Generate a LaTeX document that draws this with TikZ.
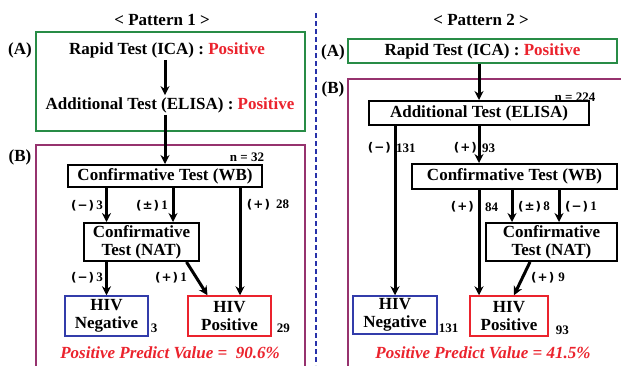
\documentclass[tikz,border=0pt]{standalone}
\usepackage{fontspec}
\setmainfont{Liberation Serif}
\newfontfamily\sgnfont{DejaVu Sans}
\usetikzlibrary{arrows.meta,positioning}
\definecolor{boxgreen}{RGB}{40,140,70}
\definecolor{boxpurple}{RGB}{150,50,110}
\definecolor{boxblue}{RGB}{50,60,170}
\definecolor{boxred}{RGB}{235,35,45}
\definecolor{lineblue}{RGB}{40,50,170}
\newcommand{\sgn}[1]{{\sgnfont\fontsize{12}{13}\selectfont(\kern1pt#1\kern1pt)}}
\begin{document}
\begin{tikzpicture}[x=1pt, y=-1pt, font=\fontsize{17}{18}\selectfont\bfseries,
  txt/.style = {inner sep=2pt, align=center},
  main/.style = {draw, line width=2pt, inner sep=0pt, align=center},
  res/.style = {draw, line width=1.5pt, inner sep=0pt, align=center, minimum height=40pt},
  arr/.style = {line width=3pt, -{Stealth[length=9pt,width=9pt]}},
  lbl/.style = {font=\fontsize{13}{14}\selectfont\bfseries, inner sep=0pt},
  ppv/.style = {text=boxred, font=\fontsize{17}{18}\selectfont\bfseries\itshape}]
\useasboundingbox (0,0) rectangle (621,365);

% Pattern 1
\node[txt] (t1) at (162,20) {< Pattern 1 >};
\draw[boxgreen, line width=1.5pt] (36,32) rectangle (305,131);
\draw[boxpurple, line width=1.5pt] (36,145) rectangle (305,372);
\node[txt] (a1) at (20,50) {(A)};
\node[txt] (b1) at (20,157) {(B)};
\node[txt] (rapid1) at (167,50) {Rapid Test (ICA) : \textcolor{boxred}{Positive}};
\node[txt] (add1) at (170,105) {Additional Test (ELISA) : \textcolor{boxred}{Positive}};
\node[main, minimum width=194pt, minimum height=22pt] (wb1) at (165,176) {Confirmative Test (WB)};
\node[main, minimum width=115pt, minimum height=38pt] (nat1) at (141.5,242) {Confirmative\\Test (NAT)};
\node[res, boxblue, text=black, minimum width=83pt] (neg1) at (106.5,316) {HIV\\Negative};
\node[res, boxred, text=black, minimum width=83pt] (pos1) at (229.5,316) {HIV\\Positive};
\node[lbl] (n1) at (247,157) {n = 32};
\node[lbl, anchor=west] (c1) at ([xshift=2pt,yshift=-12pt]neg1.east) {3};
\node[lbl, anchor=west] (c2) at ([xshift=5pt,yshift=-12pt]pos1.east) {29};
\node[ppv] (pv1) at (170,353) {Positive Predict Value =~~90.6\%};

\draw[arr] (rapid1.south -| wb1) -- (add1.north -| wb1);
\draw[arr] (add1.south -| wb1) -- (wb1.north);
\draw[arr] (wb1.south -| neg1) -- (nat1.north -| neg1);
\draw[arr] ([xshift=8pt]wb1.south) -- ([xshift=8pt]wb1.south |- nat1.north);
\draw[arr] ([xshift=75pt]wb1.south) -- ([xshift=75pt]wb1.south |- pos1.north);
\draw[arr] (nat1.south -| neg1) -- (neg1.north);
\draw[arr] ([xshift=45pt]nat1.south) -- ([xshift=-22pt]pos1.north);
\node[lbl] (l1) at (87,206) {\sgn{−}\,3};
\node[lbl] (l2) at (152,206) {\sgn{±}\,1};
\node[lbl] (l3) at (268,205) {\sgn{+}\hspace{6pt}28};
\node[lbl] (l4) at (87,278) {\sgn{−}\,3};
\node[lbl] (l5) at (171,278) {\sgn{+}\,1};

% divider
\draw[lineblue, line width=2pt, dash pattern=on 5pt off 3pt] (316,13) -- (316,365);

% Pattern 2
\node[txt] (t2) at (481,20) {< Pattern 2 >};
\draw[boxpurple, line width=1.5pt] (348,79) rectangle (630,372);
\node[txt] (a2) at (333,52) {(A)};
\node[txt] (b2) at (333,89) {(B)};
\node[draw, boxgreen, line width=1.5pt, text=black, inner sep=0pt, minimum width=269pt, minimum height=24pt] (rapid2) at (482.5,51) {Rapid Test (ICA) : \textcolor{boxred}{Positive}};
\node[main, minimum width=220pt, minimum height=24pt] (elisa2) at (479,113) {Additional Test (ELISA)};
\node[main, minimum width=205pt, minimum height=25pt] (wb2) at (514.5,176.5) {Confirmative Test (WB)};
\node[main, minimum width=131pt, minimum height=38pt] (nat2) at (551.5,242) {Confirmative\\Test (NAT)};
\node[res, boxblue, text=black, minimum width=84pt, minimum height=38pt] (neg2) at (395,315) {HIV\\Negative};
\node[res, boxred, text=black, minimum width=78pt] (pos2) at (509,316) {HIV\\Positive};
\node[lbl] (n2) at (575,97) {n = 224};
\node[lbl, anchor=west] (c3) at ([xshift=1pt,yshift=-13pt]neg2.east) {131};
\node[lbl, anchor=west] (c4) at ([xshift=7pt,yshift=-14pt]pos2.east) {93};
\node[ppv] (pv2) at (483,353) {Positive Predict Value = 41.5\%};

\draw[arr] (rapid2.south -| elisa2) -- (elisa2.north);
\draw[arr] (elisa2.south -| neg2) -- (neg2.north);
\draw[arr] (elisa2.south) -- (wb2.north -| elisa2);
\draw[arr] (wb2.south -| elisa2) -- (pos2.north -| elisa2);
\draw[arr] ([xshift=-39.5pt]nat2.north |- wb2.south) -- ([xshift=-39.5pt]nat2.north);
\draw[arr] ([xshift=7.5pt]nat2.north |- wb2.south) -- ([xshift=7.5pt]nat2.north);
\draw[arr] ([xshift=-21.5pt]nat2.south) -- ([xshift=5pt]pos2.north);
\node[lbl, anchor=east] (l6) at (391,148) {\sgn{−}};
\node[lbl, anchor=west] (l7) at (396,148) {131};
\node[lbl, anchor=east] (l8) at (477,148) {\sgn{+}};
\node[lbl, anchor=west] (l9) at (482,148) {93};
\node[lbl, anchor=east] (l10) at (474,207) {\sgn{+}};
\node[lbl, anchor=west] (l11) at (485,207) {84};
\node[lbl] (l12) at (534,207) {\sgn{±}\,8};
\node[lbl] (l13) at (581,207) {\sgn{−}\,1};
\node[lbl] (l14) at (548,278) {\sgn{+}\hspace{4pt}9};
\end{tikzpicture}
\end{document}
